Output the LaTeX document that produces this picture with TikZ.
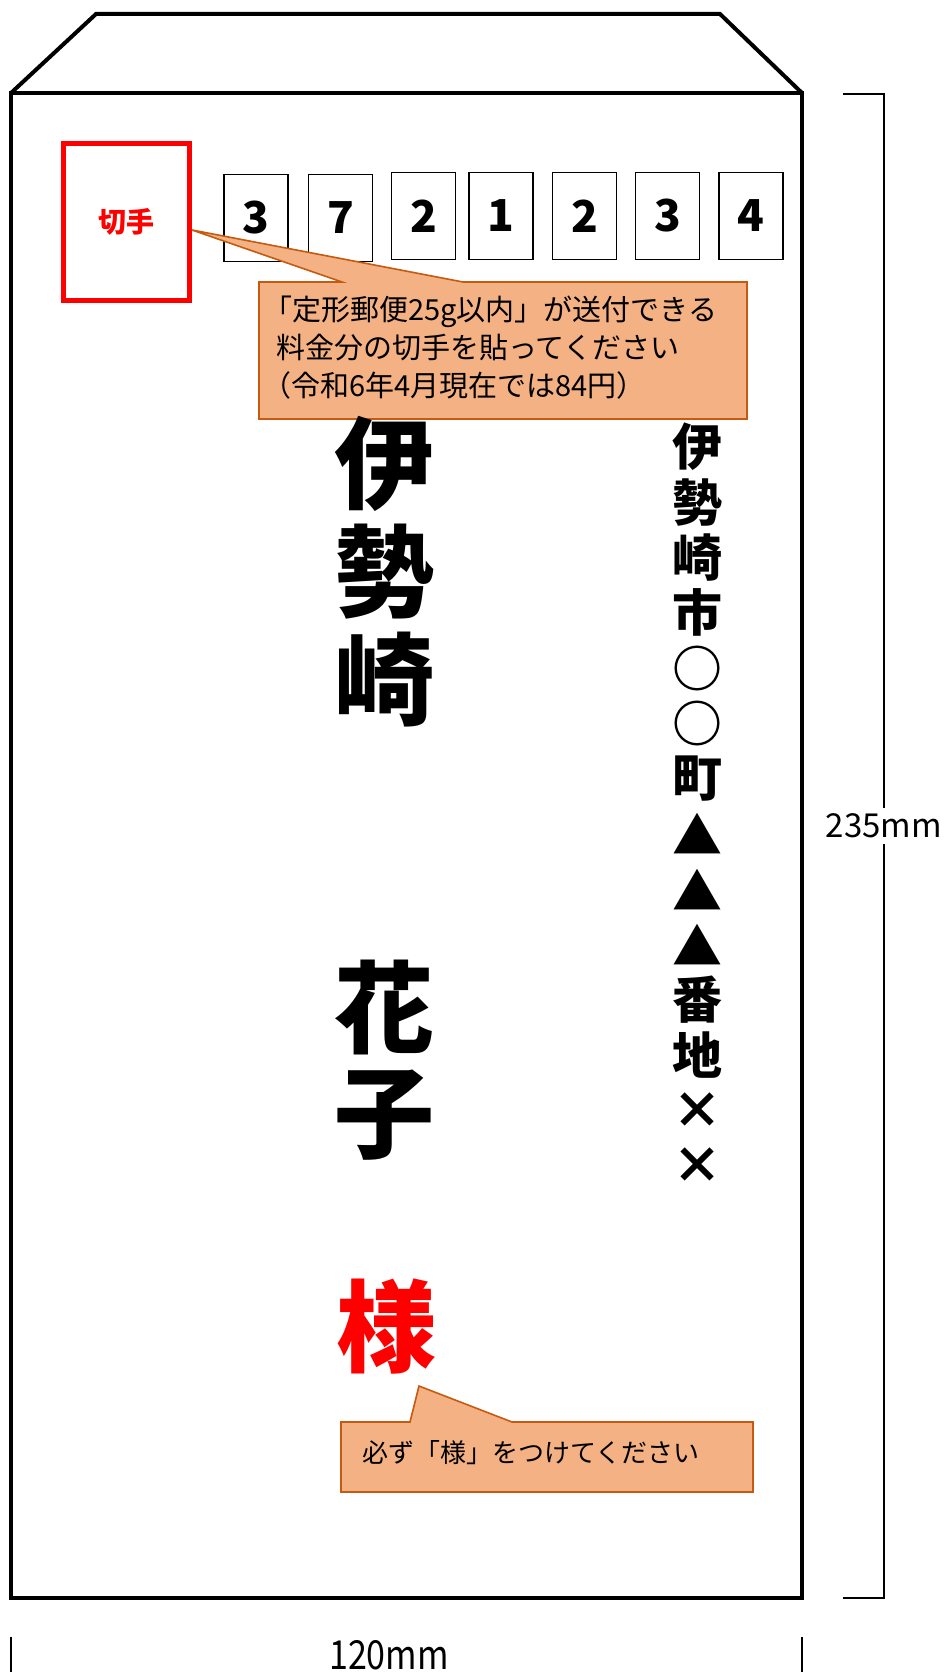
\documentclass[tikz,border=0pt]{standalone}
\usepackage{fontspec}
\setmainfont{Noto Sans CJK JP}
\definecolor{callfill}{HTML}{F4B183}
\definecolor{calldraw}{HTML}{C55A11}
\definecolor{stampred}{HTML}{FF0000}
\begin{document}
\begin{tikzpicture}[x=1pt,y=-1pt,
  env/.style={line width=4pt,line join=miter},
  zipbox/.style={draw,line width=1.6pt,minimum width=64pt,minimum height=87pt,inner sep=0pt,font=\fontsize{44}{44}\selectfont\bfseries},
  bigchar/.style={inner sep=0pt,font=\fontsize{100}{100}\selectfont\bfseries},
  addr/.style={inner sep=0pt,font=\fontsize{50}{50}\selectfont\bfseries},
  callout/.style={fill=callfill,draw=calldraw,line width=1.6pt,line join=miter},
  calltext/.style={inner sep=0pt,anchor=base west,font=\fontsize{29}{29}\selectfont},
  dim/.style={line width=1.5pt}]
\useasboundingbox (0,0) rectangle (944,1672);
% envelope
\coordinate (eTL) at (11,93);
\coordinate (eTR) at (802,93);
\coordinate (eBR) at (802,1598);
\coordinate (eBL) at (11,1598);
\coordinate (fL) at (96,14);
\coordinate (fR) at (720,14);
\draw[env] (eTL) -- (eTR) -- (eBR) -- (eBL) -- cycle;
\draw[env] (eTL) -- (fL) -- (fR) -- (eTR);
% stamp
\node[draw=stampred,line width=5pt,minimum width=126pt,minimum height=157pt,inner sep=0pt] (stamp) at (126.5,222) {};
\node[text=stampred,inner sep=0pt,font=\fontsize{28}{28}\selectfont\bfseries] (stamptext) at (126.5,222) {切手};
% postal code
\node[zipbox] (z1) at (256,218) {3};
\node[zipbox] (z2) at (340.5,218) {7};
\node[zipbox] (z3) at (423.5,216) {2};
\node[zipbox] (z4) at (501,216) {1};
\node[zipbox] (z5) at (584.5,216) {2};
\node[zipbox] (z6) at (667.5,216) {3};
\node[zipbox] (z7) at (751,216) {4};
% callout 1
\coordinate (c1tip) at (192,230);
\draw[callout] (259,282) -- (342,282) -- (c1tip) -- (463,282) -- (747,282) -- (747,419) -- (259,419) -- cycle;
\node[calltext] (c1a) at (263,320) {「定形郵便25g以内」が送付できる};
\node[calltext] (c1b) at (276,358) {料金分の切手を貼ってください};
\node[calltext] (c1c) at (262,396) {（令和6年4月現在では84円）};
% name
\node[bigchar] (n1) at (384,464) {伊};
\node[bigchar] (n2) at (384,572) {勢};
\node[bigchar] (n3) at (384,680) {崎};
\node[bigchar] (n4) at (384,1007) {花};
\node[bigchar] (n5) at (384,1115) {子};
\node[bigchar,text=stampred] (n6) at (386,1326) {様};
% address
\foreach \c [count=\i] in {伊,勢,崎,市,○,○,町,▲,▲,▲,番,地,×,×}
  \node[addr] (a\i) at (697,{447+(\i-1)*55.3}) {\c};
% callout 2
\coordinate (c2tip) at (419,1386);
\draw[callout] (341,1422) -- (410,1422) -- (c2tip) -- (512,1422) -- (753,1422) -- (753,1492) -- (341,1492) -- cycle;
\node[calltext,font=\fontsize{26}{26}\selectfont] (c2a) at (362,1462) {必ず「様」をつけてください};
% dimension right
\coordinate (d1) at (843,94);
\coordinate (d2) at (884,94);
\coordinate (d3) at (884,1598);
\coordinate (d4) at (843,1598);
\draw[dim] (d1) -- (d2) -- (d3) -- (d4);
\node[fill=white,inner xsep=0pt,inner ysep=6pt,font=\fontsize{33}{33}\selectfont] (h) at (884,826) {235mm};
% dimension bottom
\coordinate (b1) at (11,1637);
\coordinate (b2) at (11,1672);
\coordinate (b3) at (802,1637);
\coordinate (b4) at (802,1672);
\draw[dim] (b1) -- (b2);
\draw[dim] (b3) -- (b4);
\node[inner sep=0pt,xscale=0.85,font=\fontsize{40}{40}\selectfont] (w) at (389,1655) {120mm};
\end{tikzpicture}
\end{document}
